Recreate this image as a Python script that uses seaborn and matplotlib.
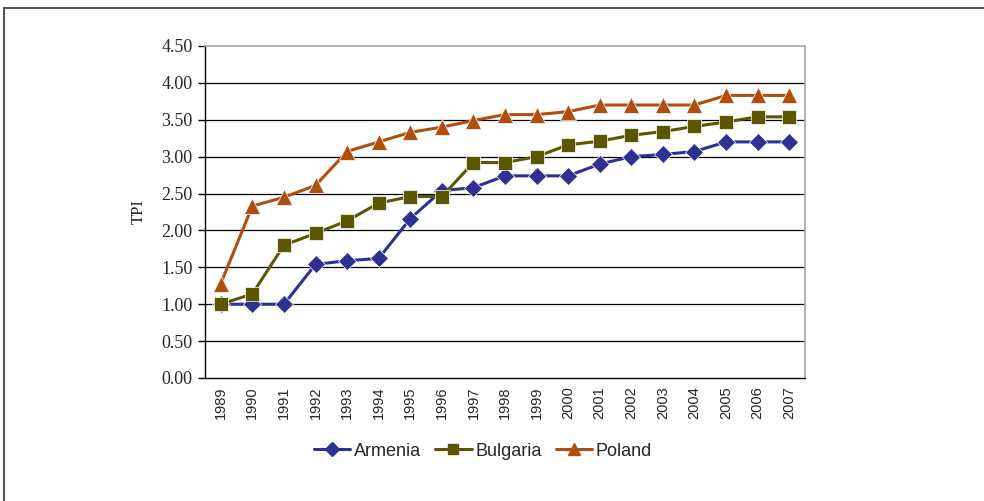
import numpy as np
import pandas as pd
import matplotlib
matplotlib.use("Agg")
import matplotlib.pyplot as plt
from matplotlib.lines import Line2D
import seaborn as sns

years = list(range(1989, 2008))
armenia = [1.00, 1.00, 1.00, 1.54, 1.59, 1.62, 2.16, 2.54, 2.58, 2.74,
           2.74, 2.74, 2.90, 3.00, 3.03, 3.07, 3.20, 3.20, 3.20]
bulgaria = [1.00, 1.14, 1.80, 1.96, 2.13, 2.37, 2.46, 2.46, 2.92, 2.92,
            3.00, 3.16, 3.21, 3.29, 3.34, 3.41, 3.47, 3.54, 3.54]
poland = [1.28, 2.33, 2.45, 2.61, 3.07, 3.20, 3.33, 3.40, 3.49, 3.57,
          3.57, 3.61, 3.70, 3.70, 3.70, 3.70, 3.83, 3.83, 3.83]
yticks = [0.0, 0.5, 1.0, 1.5, 2.0, 2.5, 3.0, 3.5, 4.0, 4.5]
countries = ["Armenia", "Bulgaria", "Poland"]

df = pd.DataFrame({
    "year": years * 3,
    "TPI": armenia + bulgaria + poland,
    "country": ["Armenia"] * 19 + ["Bulgaria"] * 19 + ["Poland"] * 19,
})

palette = {"Armenia": "#2e3192", "Bulgaria": "#5b5600", "Poland": "#b04e0f"}
markers = {"Armenia": "D", "Bulgaria": "s", "Poland": "^"}
msize = {"Armenia": 9, "Bulgaria": 9.5, "Poland": 12}

sns.set_style("white")
fig = plt.figure(figsize=(9.84, 5.01), dpi=100)
ax = fig.add_axes([205 / 984, 1 - 378 / 501, 600 / 984, 332 / 501])

sns.lineplot(data=df, x="year", y="TPI", hue="country", style="country",
             palette=palette, markers=markers, dashes=False, linewidth=2.2,
             markersize=9, markeredgewidth=0.5, ax=ax, legend=False, zorder=3)
# triangles read smaller than the others at the same size
for line in ax.lines:
    for c in countries:
        if line.get_color() == palette[c]:
            line.set_markersize(msize[c])

ax.set_xlim(1988.5, 2007.5)
ax.set_ylim(0, 4.5)
ax.set_yticks(yticks)
ax.set_yticklabels([f"{v:.2f}" for v in yticks], family="Liberation Serif", fontsize=13)
ax.set_xticks(years)
ax.set_xticklabels([str(y) for y in years], rotation=90, family="Liberation Sans", fontsize=10.5)
ax.set_xticks(np.arange(1988.5, 2008, 1), minor=True)
ax.tick_params(axis="x", which="major", length=0, pad=6)
ax.tick_params(axis="x", which="minor", length=5, width=1, color="black", direction="out")
ax.tick_params(axis="y", length=5, width=1, color="black", direction="out", left=True, pad=4)
ax.set_xlabel("")
ax.set_ylabel("TPI", family="Liberation Serif", fontsize=12, labelpad=10)

for v in yticks[1:-1]:
    ax.axhline(v, color="black", linewidth=0.9, zorder=1)
for side in ["left", "bottom"]:
    ax.spines[side].set_color("black")
    ax.spines[side].set_linewidth(1)
for side in ["top", "right"]:
    ax.spines[side].set_color("#a6a6a6")
    ax.spines[side].set_linewidth(1.2)

handles = [Line2D([], [], color=palette[c], marker=markers[c],
                  markersize=9 if c == "Poland" else 7, linewidth=2.2) for c in countries]
fig.legend(handles, countries, loc="center",
           bbox_to_anchor=(483 / 984, 1 - 451 / 501), ncol=3, frameon=False,
           prop={"family": "Liberation Sans", "size": 13}, handlelength=2.0,
           handletextpad=0.2, columnspacing=0.8)

# outer frame of the figure box
fig.add_artist(Line2D([4 / 984, 4 / 984], [0, 1 - 8 / 501], transform=fig.transFigure,
                      color="#555555", linewidth=1.5))
fig.add_artist(Line2D([4 / 984, 1], [1 - 8 / 501, 1 - 8 / 501], transform=fig.transFigure,
                      color="#555555", linewidth=1.5))

fig.savefig("out.png", dpi=100)
